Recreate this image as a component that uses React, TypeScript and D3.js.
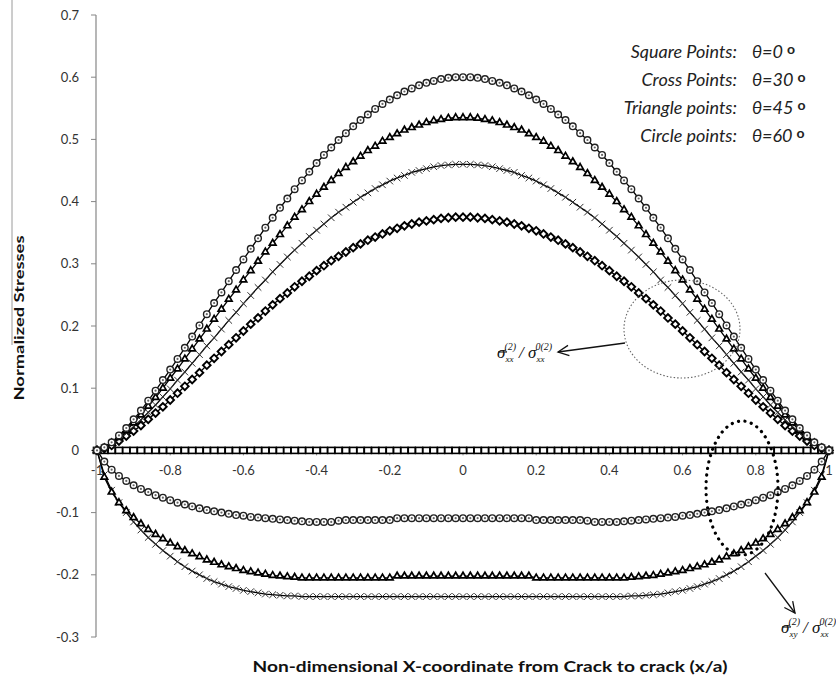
import React from "react";
import * as d3 from "d3";

// x grid of the spreadsheet: -1 .. 1 step 0.02 (101 points)
const xValues: number[] = d3.range(101).map((i) => +(-1 + i * 0.02).toFixed(2));

const xTicks = [-1, -0.8, -0.6, -0.4, -0.2, 0, 0.2, 0.4, 0.6, 0.8, 1];
const xTickLabels = ["-1", "-0.8", "-0.6", "-0.4", "-0.2", "0", "0.2", "0.4", "0.6", "0.8", "1"];
const yTicks = [0.7, 0.6, 0.5, 0.4, 0.3, 0.2, 0.1, 0, -0.1, -0.2, -0.3];
const yTickLabels = ["0.7", "0.6", "0.5", "0.4", "0.3", "0.2", "0.1", "0", "-0.1", "-0.2", "-0.3"];

const legendLabels = ["Square Points:", "Cross Points:", "Triangle points:", "Circle points:"];
const legendAngles = ["0", "30", "45", "60"];

// sigma_xx normalized (upper curves)
const circleUp = [
  0, .005, .013, .024, .036, .050, .064, .080, .096, .113,
  .130, .147, .165, .183, .201, .219, .237, .254, .272, .290,
  .307, .324, .341, .358, .374, .390, .405, .420, .434, .448,
  .462, .475, .487, .499, .510, .521, .531, .540, .549, .557,
  .564, .571, .577, .582, .587, .591, .594, .597, .599, .600,
  .600,
  .600, .599, .597, .594, .591, .587, .582, .577, .571, .564,
  .557, .549, .540, .531, .521, .510, .499, .487, .475, .462,
  .448, .434, .420, .405, .390, .374, .358, .341, .324, .307,
  .290, .272, .254, .237, .219, .201, .183, .165, .147, .130,
  .113, .096, .080, .064, .050, .036, .024, .013, .005, 0,
];
const triangleUp = [
  0, .004, .012, .021, .032, .044, .057, .071, .085, .100,
  .116, .131, .147, .163, .179, .195, .211, .227, .243, .258,
  .274, .289, .304, .319, .333, .347, .361, .375, .387, .400,
  .412, .423, .434, .445, .455, .464, .473, .482, .489, .497,
  .503, .509, .515, .519, .523, .527, .530, .532, .534, .535,
  .535,
  .535, .534, .532, .530, .527, .523, .519, .515, .509, .503,
  .497, .489, .482, .473, .464, .455, .445, .434, .423, .412,
  .400, .387, .375, .361, .347, .333, .319, .304, .289, .274,
  .258, .243, .227, .211, .195, .179, .163, .147, .131, .116,
  .100, .085, .071, .057, .044, .032, .021, .012, .004, 0,
];
const crossUp = [
  0, .004, .010, .018, .028, .038, .049, .061, .073, .086,
  .099, .113, .126, .140, .154, .168, .181, .195, .209, .222,
  .236, .249, .262, .274, .287, .299, .311, .322, .333, .344,
  .354, .364, .374, .383, .391, .399, .407, .414, .421, .427,
  .433, .438, .442, .447, .450, .453, .456, .458, .459, .460,
  .460,
  .460, .459, .458, .456, .453, .450, .447, .442, .438, .433,
  .427, .421, .414, .407, .399, .391, .383, .374, .364, .354,
  .344, .333, .322, .311, .299, .287, .274, .262, .249, .236,
  .222, .209, .195, .181, .168, .154, .140, .126, .113, .099,
  .086, .073, .061, .049, .038, .028, .018, .010, .004, 0,
];
const squareUp = [
  0, .003, .008, .015, .023, .031, .040, .050, .060, .070,
  .081, .092, .103, .114, .125, .137, .148, .159, .170, .181,
  .192, .203, .213, .224, .234, .244, .253, .263, .272, .280,
  .289, .297, .305, .312, .319, .326, .332, .338, .343, .348,
  .353, .357, .361, .364, .367, .369, .371, .373, .374, .375,
  .375,
  .375, .374, .373, .371, .369, .367, .364, .361, .357, .353,
  .348, .343, .338, .332, .326, .319, .312, .305, .297, .289,
  .280, .272, .263, .253, .244, .234, .224, .213, .203, .192,
  .181, .170, .159, .148, .137, .125, .114, .103, .092, .081,
  .070, .060, .050, .040, .031, .023, .015, .008, .003, 0,
];

// sigma_xy normalized (lower curves)
const squareZero = [
  0, 0, 0, 0, 0, 0, 0, 0, 0, 0,
  0, 0, 0, 0, 0, 0, 0, 0, 0, 0,
  0, 0, 0, 0, 0, 0, 0, 0, 0, 0,
  0, 0, 0, 0, 0, 0, 0, 0, 0, 0,
  0, 0, 0, 0, 0, 0, 0, 0, 0, 0,
  0,
  0, 0, 0, 0, 0, 0, 0, 0, 0, 0,
  0, 0, 0, 0, 0, 0, 0, 0, 0, 0,
  0, 0, 0, 0, 0, 0, 0, 0, 0, 0,
  0, 0, 0, 0, 0, 0, 0, 0, 0, 0,
  0, 0, 0, 0, 0, 0, 0, 0, 0, 0,
];
const circleDown = [
  0, -.018, -.031, -.041, -.049, -.056, -.062, -.067, -.072, -.076,
  -.080, -.084, -.087, -.090, -.093, -.096, -.098, -.100, -.102, -.104,
  -.105, -.107, -.108, -.109, -.110, -.111, -.112, -.113, -.114, -.115,
  -.115, -.115, -.115, -.113, -.112, -.112, -.112, -.112, -.112, -.112,
  -.112, -.109, -.109, -.109, -.109, -.109, -.109, -.109, -.109, -.109,
  -.109,
  -.109, -.109, -.109, -.109, -.109, -.109, -.109, -.109, -.109, -.112,
  -.112, -.112, -.112, -.112, -.112, -.112, -.113, -.115, -.115, -.115,
  -.115, -.114, -.113, -.112, -.111, -.110, -.109, -.108, -.107, -.105,
  -.104, -.102, -.100, -.098, -.096, -.093, -.090, -.087, -.084, -.080,
  -.076, -.072, -.067, -.062, -.056, -.049, -.041, -.031, -.018, 0,
];
const triangleDown = [
  0, -.043, -.067, -.084, -.097, -.108, -.118, -.127, -.135, -.142,
  -.149, -.155, -.161, -.166, -.171, -.176, -.180, -.184, -.187, -.190,
  -.193, -.195, -.197, -.199, -.201, -.202, -.203, -.204, -.205, -.205,
  -.205, -.205, -.205, -.205, -.205, -.205, -.205, -.205, -.205, -.205,
  -.205, -.202, -.202, -.202, -.202, -.202, -.202, -.202, -.202, -.202,
  -.202,
  -.202, -.202, -.202, -.202, -.202, -.202, -.202, -.202, -.202, -.205,
  -.205, -.205, -.205, -.205, -.205, -.205, -.205, -.205, -.205, -.205,
  -.205, -.205, -.204, -.203, -.202, -.201, -.199, -.197, -.195, -.193,
  -.190, -.187, -.184, -.180, -.176, -.171, -.166, -.161, -.155, -.149,
  -.142, -.135, -.127, -.118, -.108, -.097, -.084, -.067, -.043, 0,
];
const crossDown = [
  0, -.039, -.064, -.084, -.100, -.115, -.128, -.140, -.151, -.161,
  -.170, -.179, -.187, -.194, -.200, -.206, -.211, -.215, -.219, -.222,
  -.225, -.227, -.229, -.231, -.232, -.233, -.234, -.234, -.235, -.235,
  -.235, -.235, -.235, -.235, -.235, -.235, -.235, -.235, -.235, -.235,
  -.235, -.235, -.235, -.235, -.235, -.235, -.235, -.235, -.235, -.235,
  -.235,
  -.235, -.235, -.235, -.235, -.235, -.235, -.235, -.235, -.235, -.235,
  -.235, -.235, -.235, -.235, -.235, -.235, -.235, -.235, -.235, -.235,
  -.235, -.235, -.234, -.234, -.233, -.232, -.231, -.229, -.227, -.225,
  -.222, -.219, -.215, -.211, -.206, -.200, -.194, -.187, -.179, -.170,
  -.161, -.151, -.140, -.128, -.115, -.100, -.084, -.064, -.039, 0,
];

type MarkerType = "square" | "diamond" | "cross" | "triangle" | "circle";

const series: { values: number[]; marker: MarkerType }[] = [
  { values: squareZero, marker: "square" },
  { values: crossDown, marker: "cross" },
  { values: triangleDown, marker: "triangle" },
  { values: circleDown, marker: "circle" },
  { values: squareUp, marker: "diamond" },
  { values: crossUp, marker: "cross" },
  { values: triangleUp, marker: "triangle" },
  { values: circleUp, marker: "circle" },
];

const triPath = d3.symbol(d3.symbolTriangle, 19)() as string;
const timesPath = d3.symbol(d3.symbolTimes, 30)() as string;

function Marker({ type, cx, cy }: { type: MarkerType; cx: number; cy: number }) {
  const t = `translate(${cx},${cy})`;
  if (type === "square")
    return <rect x={cx - 3.5} y={cy - 3} width={7} height={6} fill="#fff" stroke="#000" strokeWidth={1.6} />;
  if (type === "diamond")
    return <rect x={-2.7} y={-2.7} width={5.4} height={5.4} transform={`${t} rotate(45)`} fill="#fff" stroke="#000" strokeWidth={1.9} />;
  if (type === "triangle")
    return <path d={triPath} transform={t} fill="#fff" stroke="#000" strokeWidth={1.7} />;
  if (type === "cross")
    return <path d={timesPath} transform={t} fill="none" stroke="#333" strokeWidth={1} />;
  return (
    <g>
      <circle cx={cx} cy={cy} r={3.3} fill="#fff" stroke="#222" strokeWidth={1.4} />
      <circle cx={cx} cy={cy} r={1.1} fill="#666" />
    </g>
  );
}

function arrowHead(x1: number, y1: number, x2: number, y2: number, len = 12, ang = 0.45) {
  const a = Math.atan2(y1 - y2, x1 - x2);
  const p1 = [x2 + len * Math.cos(a + ang), y2 + len * Math.sin(a + ang)];
  const p2 = [x2 + len * Math.cos(a - ang), y2 + len * Math.sin(a - ang)];
  return `M${p1[0]},${p1[1]} L${x2},${y2} L${p2[0]},${p2[1]}`;
}

function StressLabel({ x, y, sub }: { x: number; y: number; sub: string }) {
  return (
    <g>
      <text x={x} y={y} fontFamily="Liberation Serif, serif" fontStyle="italic" fontSize={17} fill="#111">
        <tspan>σ</tspan>
        <tspan fontSize={9} dy={4}>{sub}</tspan>
        <tspan fontSize={10} dx={-9} dy={-12}>(2)</tspan>
        <tspan fontSize={17} dx={3} dy={8}>/ σ</tspan>
        <tspan fontSize={9} dy={4}>xx</tspan>
        <tspan fontSize={10} dx={-9} dy={-12}>0(2)</tspan>
      </text>
      <line x1={x + 1} x2={x + 10} y1={y - 6} y2={y - 6} stroke="#111" strokeWidth={1.1} />
    </g>
  );
}

export default function App() {
  const width = 836;
  const height = 693;
  const x = d3.scaleLinear().domain([-1, 1]).range([97, 829]);
  const y = d3.scaleLinear().domain([-0.3, 0.7]).range([637, 15]);
  const line = d3
    .line<number>()
    .x((_, i) => x(xValues[i]))
    .y((d) => y(d));

  return (
    <svg width={width} height={height} style={{ position: "absolute", left: 0, top: 0, background: "#fff" }}>
      <rect width={width} height={height} fill="#fff" />
      <line x1={12} x2={12} y1={0} y2={345} stroke="#9a9a9a" strokeWidth={1} />

      {/* y axis */}
      <line x1={x(-1) - 1} x2={x(-1) - 1} y1={y(0.7)} y2={y(-0.3)} stroke="#868686" strokeWidth={1.2} />
      {yTicks.map((t, i) => (
        <g key={t}>
          <line x1={x(-1) - 6} x2={x(-1) - 1} y1={y(t)} y2={y(t)} stroke="#868686" />
          <text x={79} y={y(t) + 4.5} textAnchor="end" fontFamily="Lato, sans-serif" fontSize={13} fill="#333">
            {yTickLabels[i]}
          </text>
        </g>
      ))}

      {/* x axis on zero */}
      <line x1={x(-1)} x2={x(1)} y1={y(0)} y2={y(0)} stroke="#868686" strokeWidth={1.2} />
      {xTicks.map((t, i) => (
        <g key={t}>
          <line x1={x(t)} x2={x(t)} y1={y(0)} y2={y(0) + 5} stroke="#868686" />
          <text x={x(t)} y={y(0) + 25} textAnchor="middle" fontFamily="Lato, sans-serif" fontSize={13} fill="#333">
            {xTickLabels[i]}
          </text>
        </g>
      ))}

      {/* series */}
      {series.map((s, si) => (
        <g key={si}>
          <path d={line(s.values) as string} fill="none" stroke="#000" strokeWidth={1.3} />
          {s.values.map((v, i) => (
            <Marker key={i} type={s.marker} cx={x(xValues[i])} cy={y(v)} />
          ))}
        </g>
      ))}

      {/* legend text */}
      {legendLabels.map((l, i) => (
        <g key={l} fontFamily="Lato, sans-serif" fontStyle="italic" fontSize={18} fill="#222">
          <text x={737} y={58 + i * 28} textAnchor="end">{l}</text>
          <text x={752} y={58 + i * 28}>
            θ={legendAngles[i]}
            <tspan dx={4} dy={-4} fontSize={14} fontWeight="bold" fontStyle="normal">o</tspan>
          </text>
        </g>
      ))}

      {/* annotations */}
      <ellipse cx={682} cy={329} rx={58} ry={49} fill="none" stroke="#666" strokeWidth={1.1} strokeDasharray="1.5 2" />
      <line x1={625} y1={343} x2={558} y2={352} stroke="#111" strokeWidth={1.3} />
      <path d={arrowHead(625, 343, 558, 352)} fill="none" stroke="#111" strokeWidth={1.3} />
      <StressLabel x={497} y={358} sub="xx" />

      <ellipse cx={742} cy={488} rx={36} ry={67} fill="none" stroke="#000" strokeWidth={3.2} strokeDasharray="0.1 6.5" strokeLinecap="round" />
      <line x1={765} y1={573} x2={795} y2={613} stroke="#111" strokeWidth={1.3} />
      <path d={arrowHead(765, 573, 795, 613)} fill="none" stroke="#111" strokeWidth={1.3} />
      <StressLabel x={781} y={633} sub="xy" />

      {/* axis titles */}
      <text x={490} y={672} textAnchor="middle" fontFamily="Lato, sans-serif" fontWeight="bold" fontSize={15} fill="#111" textLength={475} lengthAdjust="spacingAndGlyphs">
        Non-dimensional X-coordinate  from Crack to crack  (x/a)
      </text>
      <text transform="translate(24,318) rotate(-90)" textAnchor="middle" fontFamily="Lato, sans-serif" fontWeight="bold" fontSize={14} fill="#111" textLength={165} lengthAdjust="spacingAndGlyphs">
        Normalized Stresses
      </text>
    </svg>
  );
}
